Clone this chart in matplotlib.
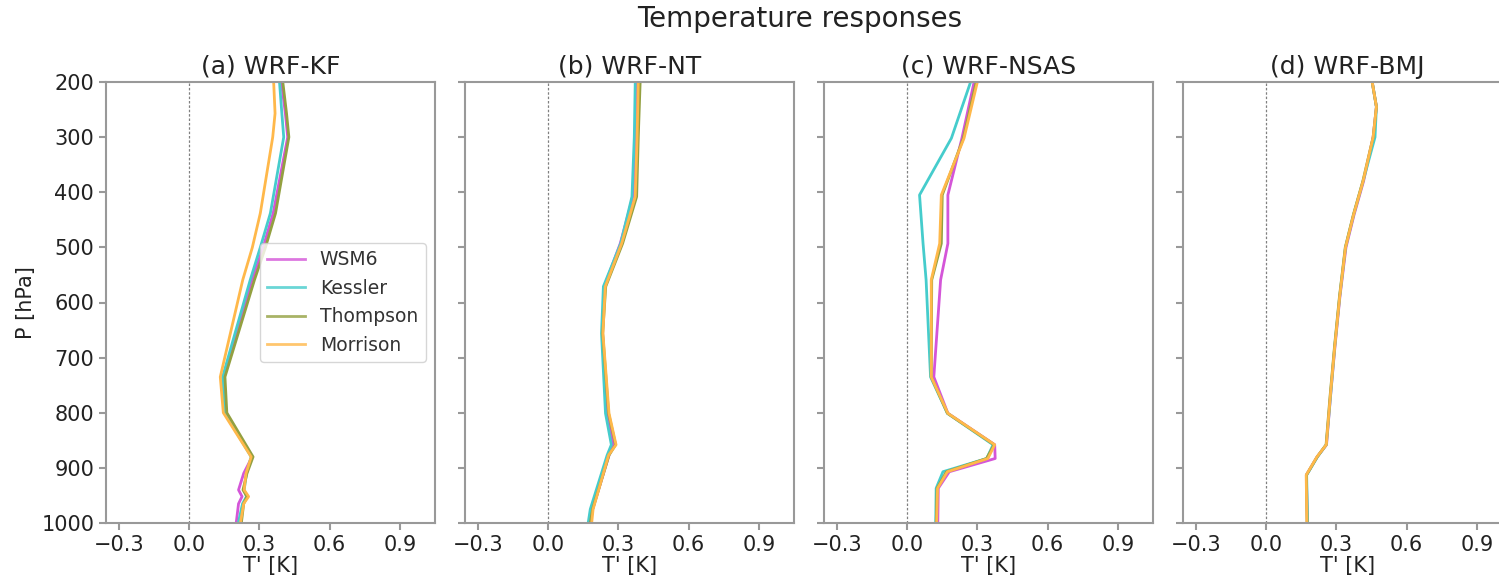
import numpy as np
import matplotlib
matplotlib.use("Agg")
import matplotlib.pyplot as plt

# pressure levels [hPa]
p_a = [200, 257, 300, 438, 500, 559, 735, 800, 880, 910, 940, 952, 965, 1000]
p_b = [200, 300, 408, 493, 571, 656, 801, 858, 877, 975, 1000]
p_c = [200, 302, 405, 493, 559, 735, 801, 858, 883, 907, 937, 1000]
p_d = [200, 245, 300, 380, 440, 500, 590, 680, 770, 858, 880, 913, 1000]

# (a) WRF-KF
kf_wsm6 = [0.394, 0.411, 0.421, 0.359, 0.316, 0.269, 0.147, 0.154, 0.269, 0.233, 0.211, 0.226, 0.211, 0.201]
kf_kessler = [0.386, 0.396, 0.404, 0.347, 0.304, 0.261, 0.143, 0.152, 0.265, 0.245, 0.235, 0.245, 0.228, 0.210]
kf_thompson = [0.400, 0.416, 0.426, 0.369, 0.326, 0.279, 0.153, 0.161, 0.273, 0.247, 0.230, 0.247, 0.233, 0.223]
kf_morrison = [0.361, 0.367, 0.357, 0.304, 0.270, 0.229, 0.133, 0.146, 0.265, 0.243, 0.235, 0.254, 0.233, 0.219]

# (b) WRF-NT
nt_wsm6 = [0.380, 0.375, 0.362, 0.308, 0.240, 0.232, 0.252, 0.279, 0.260, 0.190, 0.180]
nt_kessler = [0.372, 0.368, 0.358, 0.310, 0.236, 0.228, 0.245, 0.270, 0.252, 0.180, 0.171]
nt_thompson = [0.393, 0.385, 0.378, 0.318, 0.246, 0.233, 0.258, 0.288, 0.260, 0.190, 0.180]
nt_morrison = [0.385, 0.380, 0.372, 0.314, 0.244, 0.234, 0.260, 0.290, 0.258, 0.192, 0.186]

# (c) WRF-NSAS
ns_wsm6 = [0.286, 0.234, 0.174, 0.174, 0.143, 0.114, 0.174, 0.374, 0.376, 0.180, 0.133, 0.131]
ns_kessler = [0.271, 0.189, 0.053, 0.068, 0.081, 0.100, 0.172, 0.367, 0.340, 0.153, 0.124, 0.122]
ns_thompson = [0.295, 0.240, 0.150, 0.146, 0.105, 0.103, 0.172, 0.372, 0.339, 0.168, 0.128, 0.124]
ns_morrison = [0.300, 0.243, 0.146, 0.139, 0.103, 0.103, 0.174, 0.374, 0.345, 0.172, 0.130, 0.126]

# (d) WRF-BMJ
bmj_wsm6 = [0.453, 0.471, 0.457, 0.416, 0.376, 0.341, 0.315, 0.294, 0.275, 0.258, 0.218, 0.172, 0.176]
bmj_kessler = [0.453, 0.471, 0.465, 0.414, 0.374, 0.339, 0.314, 0.293, 0.275, 0.257, 0.219, 0.173, 0.177]
bmj_thompson = [0.453, 0.471, 0.457, 0.413, 0.373, 0.338, 0.313, 0.292, 0.273, 0.256, 0.218, 0.172, 0.175]
bmj_morrison = [0.453, 0.471, 0.457, 0.414, 0.374, 0.339, 0.314, 0.293, 0.274, 0.257, 0.217, 0.171, 0.174]

titles = ["(a) WRF-KF", "(b) WRF-NT", "(c) WRF-NSAS", "(d) WRF-BMJ"]
schemes = ["WSM6", "Kessler", "Thompson", "Morrison"]
colors = ["#d455d8", "#45cccc", "#93a040", "#ffb84a"]

panels = [
    (p_a, [kf_wsm6, kf_kessler, kf_thompson, kf_morrison]),
    (p_b, [nt_wsm6, nt_kessler, nt_thompson, nt_morrison]),
    (p_c, [ns_wsm6, ns_kessler, ns_thompson, ns_morrison]),
    (p_d, [bmj_wsm6, bmj_kessler, bmj_thompson, bmj_morrison]),
]

fig = plt.figure(figsize=(14.99, 5.84), dpi=100)
W, H = 1499, 584
lefts = [106, 465, 824, 1183]

for i, (p, series) in enumerate(panels):
    ax = fig.add_axes([lefts[i] / W, (H - 523) / H, 329 / W, 441 / H])
    for name, vals, c in zip(schemes, series, colors):
        ax.plot(vals, p, color=c, lw=2, label=name)
    ax.axvline(0, color="grey", lw=0.9, linestyle=(0, (2, 1.5)))
    ax.set_xlim(-0.355, 1.05)
    ax.set_ylim(1000, 200)
    ax.set_xticks([-0.3, 0.0, 0.3, 0.6, 0.9])
    ax.set_yticks(np.arange(200, 1001, 100))
    ax.set_title(titles[i], fontsize=18, color="#222222")
    ax.set_xlabel("T' [K]", fontsize=15, color="#222222", labelpad=1)
    for s in ax.spines.values():
        s.set_color("#999999")
        s.set_linewidth(1.5)
    if i == 3:
        ax.spines["right"].set_visible(False)
    ax.tick_params(colors="#999999", labelcolor="#222222", labelsize=15, width=1.5, length=5)
    if i == 0:
        ax.set_ylabel("P [hPa]", fontsize=15, color="#222222")
        leg = ax.legend(loc="center right", fontsize=13.5, framealpha=0.8, handlelength=2.0)
        for t in leg.get_texts():
            t.set_color("#333333")
        for ln in leg.get_lines():
            ln.set_alpha(0.8)
    else:
        ax.set_yticklabels([])

fig.text(800 / W, 1 - 19 / H, "Temperature responses", fontsize=20,
         ha="center", va="center", color="#222222")

fig.savefig("out.png", dpi=100)
